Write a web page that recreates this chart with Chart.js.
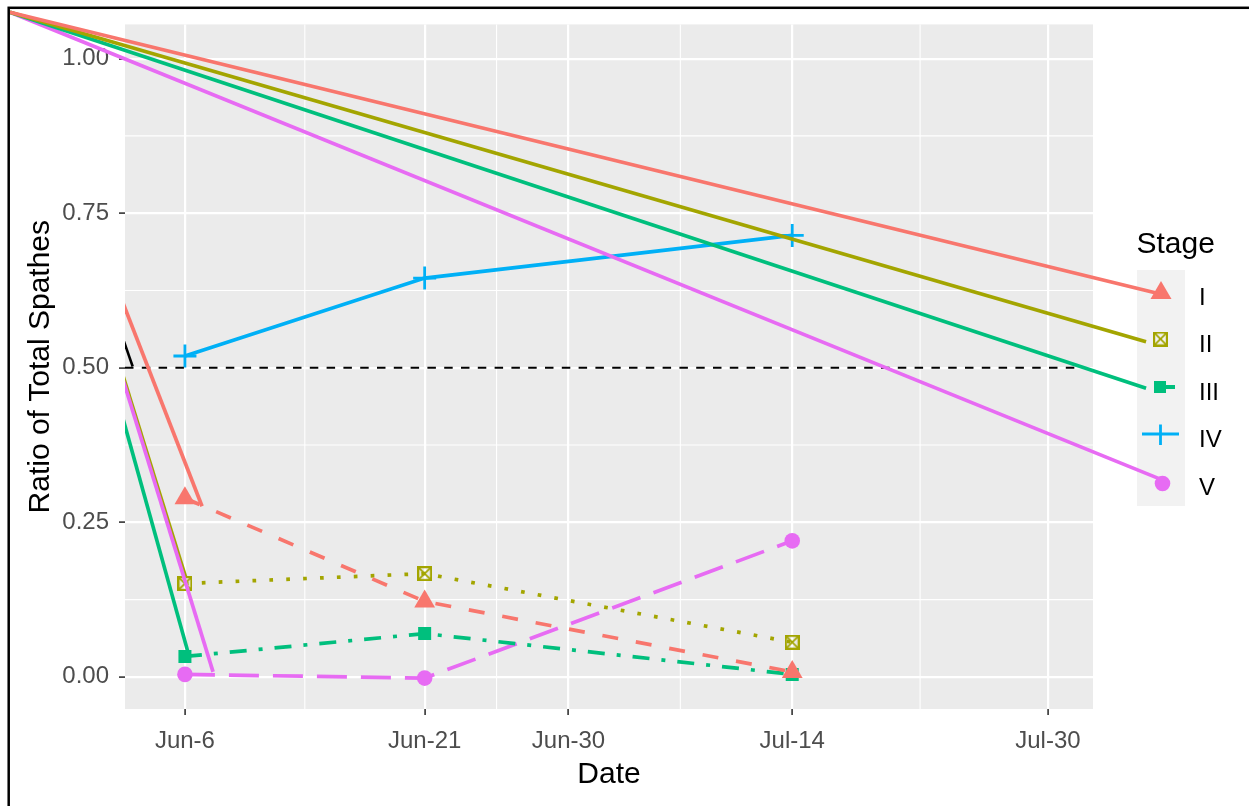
<!DOCTYPE html>
<html><head><meta charset="utf-8">
<script src="https://cdn.jsdelivr.net/npm/chart.js@4.4.1/dist/chart.umd.min.js"></script>
<style>html,body{margin:0;padding:0;background:#fff;}#wrap{position:relative;width:1249px;height:806px;}</style>
</head><body><div id="wrap"><canvas id="c" width="1249" height="806"></canvas></div>
<script>
// ---- data (x in days after Jun-6) ----
const dateLabels = ['Jun-6', 'Jun-21', 'Jun-30', 'Jul-14', 'Jul-30'];
const dateTickDays = [0, 15, 24, 38, 54];
const minorDays = [7.5, 19.5, 31, 46];
const yTickValues = [0, 0.25, 0.5, 0.75, 1.0];
const yTickLabels = ['0.00', '0.25', '0.50', '0.75', '1.00'];
const yMinorValues = [0.125, 0.375, 0.625, 0.875];
const sampleDays = [0, 15, 38];
const stageNames = ['I', 'II', 'III', 'IV', 'V'];
const stageI = [0.289, 0.122, 0.008];
const stageII = [0.151, 0.167, 0.056];
const stageIII = [0.033, 0.070, 0.004];
const stageIV = [0.519, 0.645, 0.714];
const stageV = [0.004, -0.002, 0.220];
const originPoint = [-10.95, 1.075];
const legendEndI = [60.9, 0.620];
const legendEndII = [60.14, 0.542];
const legendEndIII = [60.14, 0.467];
const legendEndV = [61.3, 0.317];
const leftEndI = [1.07, 0.276];
const leftEndII = [0.06, 0.160];
const leftEndIII = [0.19, 0.040];
const leftEndV = [1.76, 0.008];
const leftEndRef = [-3.27, 0.502];
const refLineY = 0.5;
const refLineX = [-3.75, 55.9];

const colors = ['#F8766D', '#A3A500', '#00BF7D', '#00B0F6', '#E76BF3'];
const FONT = 'Liberation Sans, Arial, sans-serif';

function pts(xs, ys) { return xs.map((x, i) => ({x: x, y: ys[i]})); }
function seg(a, b) { return [{x: a[0], y: a[1]}, {x: b[0], y: b[1]}]; }

function makeCrossSquare(size, color, lw) {
  const c = document.createElement('canvas');
  c.width = size; c.height = size;
  const g = c.getContext('2d');
  g.strokeStyle = color; g.lineWidth = lw;
  const h = lw / 2;
  g.strokeRect(h, h, size - lw, size - lw);
  g.lineWidth = lw * 0.8;
  g.beginPath();
  g.moveTo(h, h); g.lineTo(size - h, size - h);
  g.moveTo(size - h, h); g.lineTo(h, size - h);
  g.stroke();
  return c;
}
const crossSq = makeCrossSquare(15, colors[1], 2.2);

const W = 3.7;
function segDS(data, color, clip, w) {
  return {data: data, borderColor: color, borderWidth: w || W, pointRadius: 0, borderCapStyle: 'butt', clip: clip, fill: false, tension: 0};
}

const datasets = [
  // lines from the corner to the legend keys (unclipped)
  segDS(seg(originPoint, legendEndI), colors[0], false),
  segDS(seg(originPoint, legendEndII), colors[1], false),
  segDS(seg(originPoint, legendEndIII), colors[2], false),
  segDS(seg(originPoint, legendEndV), colors[4], false),
  // lines from the corner to the first samples (clipped to panel)
  segDS(seg(originPoint, leftEndI), colors[0], 0),
  segDS(seg(originPoint, leftEndV), colors[4], 0),
  segDS(seg(originPoint, leftEndII), colors[1], 0),
  segDS(seg(originPoint, leftEndIII), colors[2], 0),
  segDS(seg(originPoint, leftEndRef), '#000000', 0, 2.6),
  // reference line
  {data: [{x: refLineX[0], y: refLineY}, {x: refLineX[1], y: refLineY}], borderColor: '#000000', borderWidth: 2,
   borderDash: [8.5, 8.3], pointRadius: 0, borderCapStyle: 'butt', fill: false},
  // stages
  {label: 'IV', data: pts(sampleDays, stageIV), borderColor: colors[3], borderWidth: W, borderCapStyle: 'butt',
   pointStyle: 'cross', pointRadius: 11.5, pointBorderWidth: 2.8, pointBorderColor: colors[3], fill: false},
  {label: 'I', data: pts(sampleDays, stageI), borderColor: colors[0], borderWidth: W, borderDash: [16, 18], borderCapStyle: 'butt',
   pointStyle: 'triangle', pointRadius: 12, pointBorderWidth: 0, pointBackgroundColor: colors[0], fill: false},
  {label: 'II', data: pts(sampleDays, stageII), borderColor: colors[1], borderWidth: W, borderDash: [3.7, 13.2], borderCapStyle: 'butt',
   pointStyle: crossSq, pointRadius: 8, pointBorderWidth: 0, fill: false},
  {label: 'III', data: pts(sampleDays, stageIII), borderColor: colors[2], borderWidth: W, borderDash: [17, 12, 4, 12], borderCapStyle: 'butt',
   pointStyle: 'rect', pointRadius: 9.2, pointBorderWidth: 0, pointBackgroundColor: colors[2], fill: false},
  {label: 'V', data: pts(sampleDays, stageV), borderColor: colors[4], borderWidth: W, borderDash: [30, 14], borderCapStyle: 'butt',
   pointStyle: 'circle', pointRadius: 7.8, pointBorderWidth: 0, pointBackgroundColor: colors[4], fill: false}
];

const panelPlugin = {
  id: 'panel',
  beforeDraw(chart) {
    const {ctx, chartArea: a, scales: {x, y}} = chart;
    ctx.save();
    ctx.fillStyle = '#EBEBEB';
    ctx.fillRect(a.left, a.top, a.right - a.left, a.bottom - a.top);
    ctx.strokeStyle = '#FFFFFF';
    ctx.lineWidth = 1.1;
    minorDays.forEach(v => {
      const p = x.getPixelForValue(v);
      ctx.beginPath(); ctx.moveTo(p, a.top); ctx.lineTo(p, a.bottom); ctx.stroke();
    });
    yMinorValues.forEach(v => {
      const p = y.getPixelForValue(v);
      ctx.beginPath(); ctx.moveTo(a.left, p); ctx.lineTo(a.right, p); ctx.stroke();
    });
    ctx.restore();
  },
  beforeDatasetsDraw(chart) {
    const ctx = chart.ctx;
    ctx.save();
    ctx.fillStyle = '#F2F2F2';
    ctx.fillRect(1137, 270, 48, 236);
    ctx.restore();
  },
  afterDatasetsDraw(chart) {
    const ctx = chart.ctx;
    ctx.save();
    // I triangle
    ctx.fillStyle = colors[0];
    ctx.beginPath(); ctx.moveTo(1161, 281); ctx.lineTo(1171.5, 299); ctx.lineTo(1150.5, 299); ctx.closePath(); ctx.fill();
    // II crossed square
    ctx.drawImage(crossSq, 1153, 331.5, 15, 15);
    // III square + tail
    ctx.fillStyle = colors[2];
    ctx.fillRect(1154, 381, 12, 12);
    ctx.fillRect(1165, 385, 10, 4);
    // IV plus
    ctx.strokeStyle = colors[3]; ctx.lineWidth = 2.8;
    ctx.beginPath(); ctx.moveTo(1142, 434); ctx.lineTo(1179, 434); ctx.moveTo(1160.5, 424.5); ctx.lineTo(1160.5, 445); ctx.stroke();
    // V circle
    ctx.fillStyle = colors[4];
    ctx.beginPath(); ctx.arc(1162.5, 483.5, 7.8, 0, Math.PI * 2); ctx.fill();
    ctx.restore();
  },
  afterDraw(chart) {
    const ctx = chart.ctx;
    ctx.save();
    ctx.fillStyle = '#000000';
    ctx.textAlign = 'left';
    ctx.textBaseline = 'alphabetic';
    ctx.font = '30px ' + FONT;
    ctx.fillText('Stage', 1136.5, 252.5);
    ctx.font = '24px ' + FONT;
    const capCenters = [296.7, 343.3, 391, 438, 486];
    stageNames.forEach((s, i) => ctx.fillText(s, 1199, capCenters[i] + 8.6));
    ctx.strokeStyle = '#000000';
    ctx.lineWidth = 2.5;
    ctx.strokeRect(8.7, 7.8, 1400, 1000);
    ctx.restore();
  }
};

new Chart(document.getElementById('c'), {
  type: 'line',
  data: {datasets: datasets},
  plugins: [panelPlugin],
  options: {
    responsive: false,
    animation: false,
    devicePixelRatio: 1,
    events: [],
    layout: {padding: {left: 0, top: 21, right: 156, bottom: 0}},
    plugins: {legend: {display: false}, tooltip: {enabled: false}},
    scales: {
      x: {
        type: 'linear', min: -3.75, max: 56.82,
        afterBuildTicks: s => { s.ticks = dateTickDays.map(v => ({value: v})); },
        afterFit: s => { s.height = 97; },
        ticks: {callback: (v, i) => dateLabels[i], color: '#4D4D4D', font: {family: FONT, size: 24}, padding: 12, maxRotation: 0, autoSkip: false},
        grid: {color: '#FFFFFF', lineWidth: 2.2, tickColor: '#333333', tickWidth: 1.6, tickLength: 6},
        border: {display: false},
        title: {display: true, text: 'Date', color: '#000000', font: {family: FONT, size: 30}, padding: {top: 0, bottom: 13}}
      },
      y: {
        type: 'linear', min: -0.052, max: 1.0554,
        afterBuildTicks: s => { s.ticks = yTickValues.map(v => ({value: v})); },
        afterFit: s => { s.width = 125; },
        ticks: {callback: (v, i) => yTickLabels[i], color: '#4D4D4D', font: {family: FONT, size: 24}, padding: 10, autoSkip: false},
        grid: {color: '#FFFFFF', lineWidth: 2.2, tickColor: '#333333', tickWidth: 1.6, tickLength: 6},
        border: {display: false},
        title: {display: true, text: 'Ratio of Total Spathes', color: '#000000', font: {family: FONT, size: 30}, padding: {top: 23, bottom: 0}}
      }
    }
  }
});
</script></body></html>
